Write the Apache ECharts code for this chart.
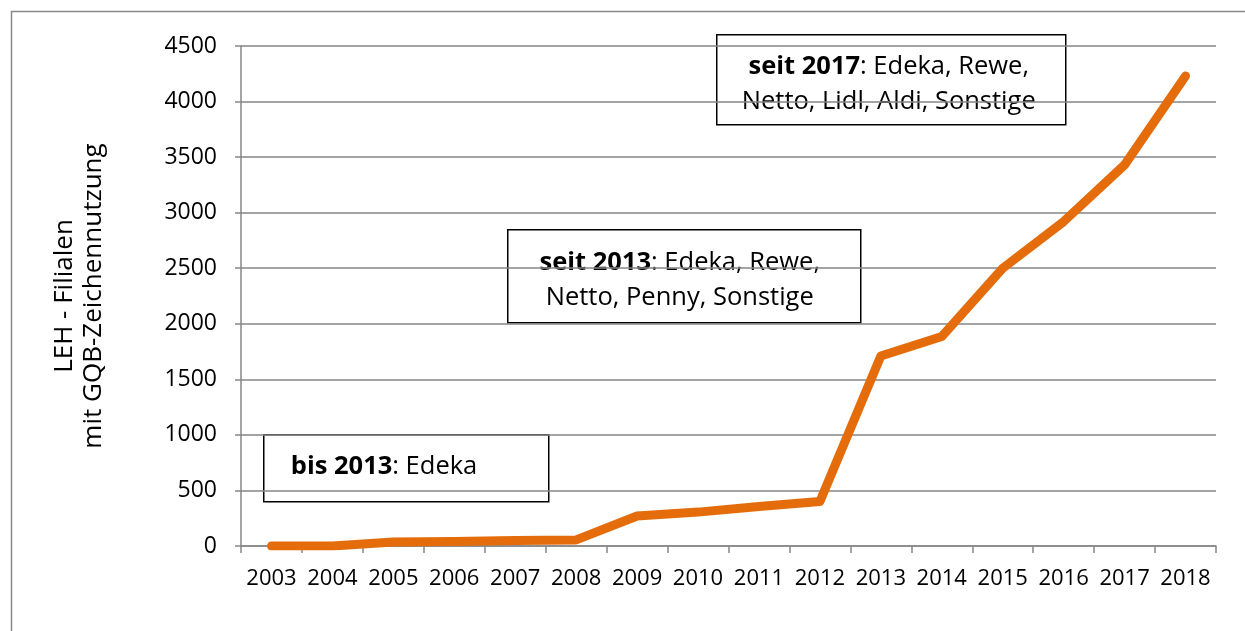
<!DOCTYPE html>
<html>
<head>
<meta charset="utf-8">
<script src="https://cdn.jsdelivr.net/npm/echarts@6/dist/echarts.min.js"></script>
<style>html,body{margin:0;padding:0;background:#fff;}#c{width:1245px;height:631px;}</style>
</head>
<body>
<div id="c"></div>
<script>
const years = ['2003','2004','2005','2006','2007','2008','2009','2010','2011','2012','2013','2014','2015','2016','2017','2018'];
const filialen = [0, 0, 35, 40, 50, 55, 270, 305, 355, 400, 1710, 1885, 2500, 2920, 3430, 4230];
const yTicks = { min: 0, max: 4500, interval: 500 };
const yTitle = 'LEH - Filialen\nmit GQB-Zeichennutzung';
const notes = [
  { bold: 'bis 2013', rest: ': Edeka' },
  { bold: 'seit 2013', rest: ': Edeka, Rewe,\nNetto, Penny, Sonstige' },
  { bold: 'seit 2017', rest: ': Edeka, Rewe,\nNetto, Lidl, Aldi, Sonstige' }
];

const FONT = 'Open Sans';
const chart = echarts.init(document.getElementById('c'));

function noteBox(n, x, y, w, h, textX, textY, align) {
  const lines = n.rest.split('\n');
  const rich = '{b|' + n.bold + '}{r|' + lines[0] + '}' + (lines[1] ? '\n{r|' + lines[1] + '}' : '');
  return {
    type: 'group', left: x, top: y, z: 100,
    children: [
      { type: 'rect', shape: { x: 0, y: 0, width: w, height: h },
        style: { fill: '#fff', stroke: '#000', lineWidth: 1.5 } },
      { type: 'text', x: textX, y: textY,
        style: { text: rich, align: align, verticalAlign: 'middle', lineHeight: 35,
          rich: {
            b: { fontFamily: FONT, fontSize: 25.5, fontWeight: 'bold', fill: '#000', lineHeight: 35 },
            r: { fontFamily: FONT, fontSize: 25.5, fill: '#000', lineHeight: 35 }
          } } }
    ]
  };
}

chart.setOption({
  animation: false,
  grid: { left: 241, right: 29, top: 46, bottom: 85 },
  xAxis: {
    type: 'category', data: years, boundaryGap: true,
    axisLine: { lineStyle: { color: '#868686', width: 1.5 } },
    axisTick: { show: true, length: 7, lineStyle: { color: '#868686', width: 1.5 } },
    axisLabel: { color: '#000', fontFamily: FONT, fontSize: 22, margin: 22, interval: 0 }
  },
  yAxis: {
    type: 'value', min: yTicks.min, max: yTicks.max, interval: yTicks.interval,
    name: yTitle, nameLocation: 'middle', nameGap: 133, nameRotate: 90,
    nameTextStyle: { color: '#000', fontFamily: FONT, fontSize: 26, lineHeight: 29 },
    axisLine: { show: true, lineStyle: { color: '#868686', width: 1.5 } },
    axisTick: { show: true, length: 6, lineStyle: { color: '#868686', width: 1.5 } },
    axisLabel: { color: '#000', fontFamily: FONT, fontSize: 23, margin: 24, formatter: v => String(v) },
    splitLine: { lineStyle: { color: '#868686', width: 1.5 } }
  },
  series: [{
    type: 'line', data: filialen, symbol: 'none', smooth: false,
    lineStyle: { color: '#E46C0A', width: 9, cap: 'round', join: 'round' }
  }],
  graphic: [
    { type: 'rect', left: 9, top: 9, shape: { x: 0, y: 0, width: 1235, height: 640 },
      style: { fill: 'none', stroke: '#888', lineWidth: 1.5 }, silent: true },
    noteBox(notes[0], 263, 434, 285, 67, 27, 32, 'left'),
    noteBox(notes[1], 507, 229, 353, 93, 172, 50, 'center'),
    noteBox(notes[2], 716, 34, 349, 90, 172, 49, 'center')
  ]
});
</script>
</body>
</html>
